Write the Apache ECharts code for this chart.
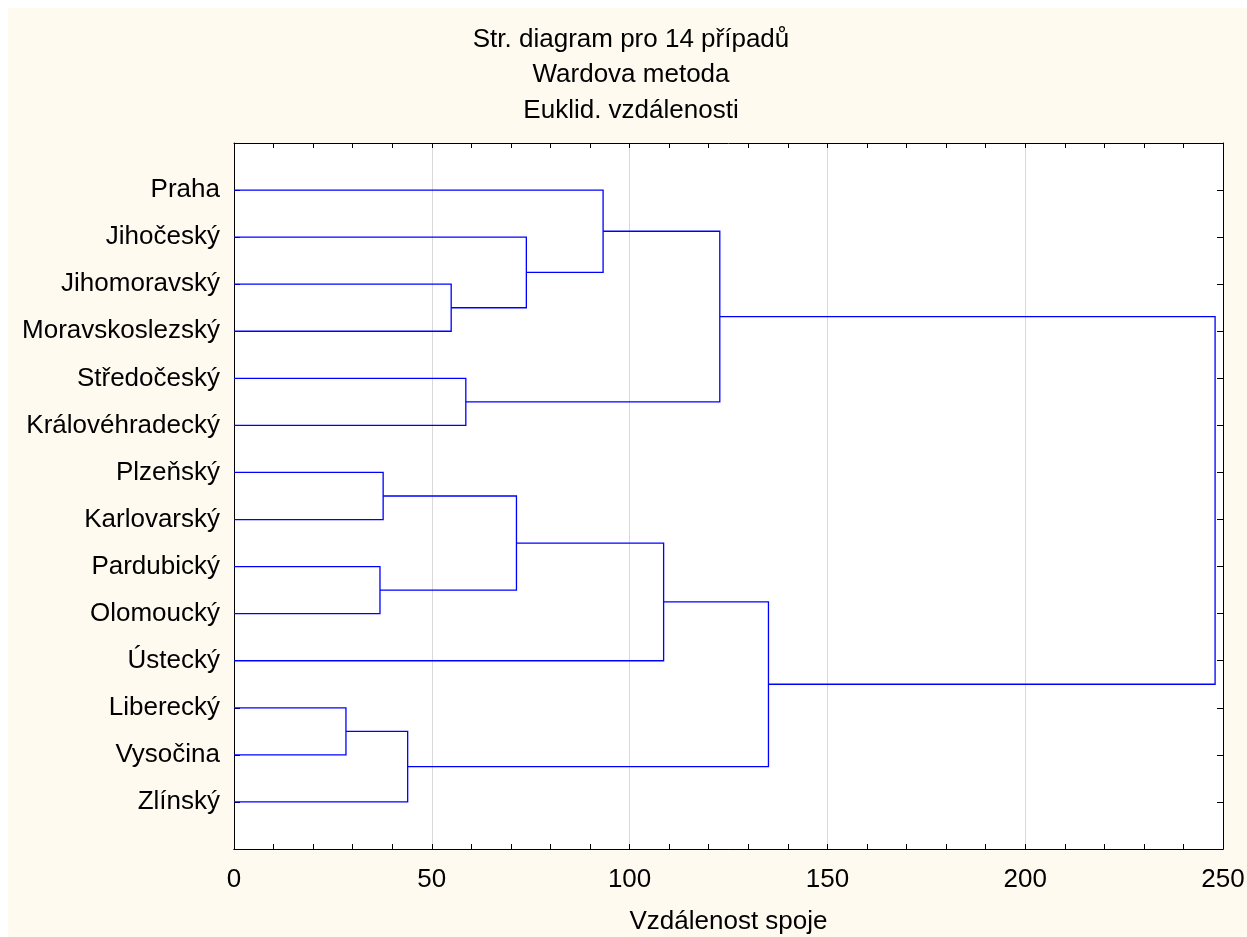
<!DOCTYPE html>
<html>
<head>
<meta charset="utf-8">
<script src="https://cdn.jsdelivr.net/npm/echarts@6/dist/echarts.min.js"></script>
<style>
html,body{margin:0;padding:0;background:#ffffff;}
#c{position:absolute;left:8px;top:8px;width:1239px;height:929px;background:#fffaf0;}
</style>
</head>
<body>
<div id="c"></div>
<script>
// Leaves (top to bottom)
const leafNames = ['Praha','Jihočeský','Jihomoravský','Moravskoslezský','Středočeský','Královéhradecký','Plzeňský','Karlovarský','Pardubický','Olomoucký','Ústecký','Liberecký','Vysočina','Zlínský'];
// Merge steps: node index 14 + k joins mergeLeft[k] and mergeRight[k] at mergeHeight[k]
const mergeLeft   = [2, 1, 0, 4, 16, 6, 8, 19, 21, 11, 23, 22, 18];
const mergeRight  = [3, 14, 15, 5, 17, 7, 9, 20, 10, 12, 13, 24, 25];
const mergeHeight = [54.9, 73.9, 93.3, 58.6, 122.8, 37.7, 36.9, 71.4, 108.6, 28.3, 43.9, 135.1, 248.0];
const xMin = 0, xMax = 250, xMajor = 50, xMinor = 10;

const FONT = "'Liberation Sans', Arial, sans-serif";
const n = leafNames.length;
const nodeX = [], nodeY = [];
for (let i = 0; i < n; i++) { nodeX.push(0); nodeY.push(i + 1); }
const links = [];
for (let k = 0; k < mergeHeight.length; k++) {
  const a = mergeLeft[k], b = mergeRight[k], h = mergeHeight[k];
  links.push([nodeX[a], nodeY[a], h, nodeX[b], nodeY[b]]);
  nodeX.push(h);
  nodeY.push((nodeY[a] + nodeY[b]) / 2);
}

const chart = echarts.init(document.getElementById('c'), null, {renderer: 'canvas'});
const axisLineStyle = {color: '#000000', width: 1};
const lineOn = {show: true, onZero: false, lineStyle: axisLineStyle};
function tickAxisX(pos, interval) {
  return {
    type: 'value', position: pos, min: xMin, max: xMax, interval: interval,
    axisLine: lineOn,
    axisTick: {show: true, inside: true, length: 5, lineStyle: axisLineStyle},
    minorTick: {show: false},
    splitLine: {show: false},
    axisLabel: {show: false}
  };
}
const bottomMain = tickAxisX('bottom', xMajor);
bottomMain.splitLine = {show: true, lineStyle: {color: '#d9d9d9', width: 1}};
bottomMain.axisLabel = {show: true, fontFamily: FONT, fontSize: 26, color: '#000', margin: 18};
bottomMain.name = 'Vzdálenost spoje';
bottomMain.nameLocation = 'middle';
bottomMain.nameGap = 60;
bottomMain.nameTextStyle = {fontFamily: FONT, fontSize: 26, color: '#000'};

function yAx(pos, withLabels) {
  return {
    type: 'value', position: pos, min: 0, max: n + 1, interval: 1, inverse: true,
    axisLine: lineOn,
    axisTick: {show: true, inside: true, length: 6, lineStyle: axisLineStyle},
    splitLine: {show: false},
    axisLabel: withLabels ? {
      fontFamily: FONT, fontSize: 26, color: '#000', margin: 14,
      formatter: v => (v >= 1 && v <= n) ? leafNames[v - 1] : ''
    } : {show: false}
  };
}

chart.setOption({
  animation: false,
  backgroundColor: 'transparent',
  title: {
    text: 'Str. diagram pro 14 případů\nWardova metoda\nEuklid. vzdálenosti',
    left: 623, top: 14, padding: 0, textAlign: 'center',
    textStyle: {fontFamily: FONT, fontSize: 26, fontWeight: 'normal', color: '#000', lineHeight: 35.5}
  },
  grid: {left: 226, top: 135, width: 989, height: 706, show: true, backgroundColor: '#ffffff', borderWidth: 0,
         containLabel: false, outerBoundsMode: 'none'},
  xAxis: [bottomMain, tickAxisX('bottom', xMinor), tickAxisX('top', xMinor)],
  yAxis: [yAx('left', true), yAx('right', false)],
  series: [{
    type: 'custom', xAxisIndex: 0, yAxisIndex: 0, z: 5,
    data: links,
    encode: {x: [0, 2, 3], y: [1, 4]},
    renderItem: function (params, api) {
      const xa = api.value(0), ya = api.value(1), h = api.value(2), xb = api.value(3), yb = api.value(4);
      return {
        type: 'polyline',
        shape: {points: [api.coord([xa, ya]), api.coord([h, ya]), api.coord([h, yb]), api.coord([xb, yb])]},
        style: {stroke: '#0000ff', lineWidth: 1.3, fill: null}
      };
    }
  }]
});
</script>
</body>
</html>
